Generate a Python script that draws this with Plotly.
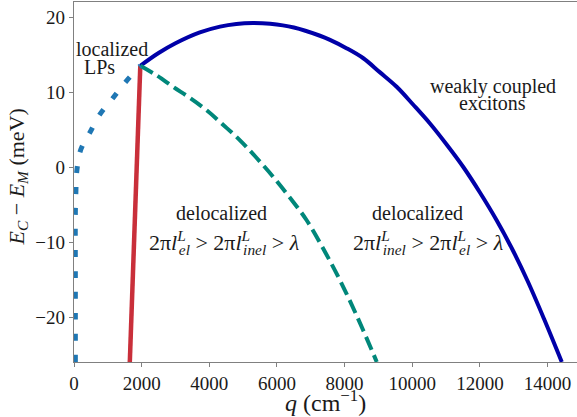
import plotly.graph_objects as go

# upper branch (weakly coupled excitons), solid dark blue
q_upper = [1960, 2500, 3000, 3720, 4316, 4800, 5290, 5800, 6500, 7272, 7567, 8053,
           8553, 9038, 9538, 10030, 10523, 11015, 11508, 12000, 12494, 12950, 13410,
           13900, 14420]
e_upper = [13.5, 15.2, 16.5, 17.95, 18.72, 19.08, 19.2, 19.1, 18.6, 17.5, 16.95, 15.85,
           14.5, 12.65, 10.7, 8.3, 5.8, 3.0, 0.0, -3.4, -7.1, -10.9, -15.2,
           -20.3, -26.0]

# boundary between the two delocalized regimes, dashed teal
q_mid = [1960, 2450, 2936, 3430, 3922, 4415, 4907, 5400, 5892, 6385, 6878, 7370,
         7863, 8355, 8848, 8950]
e_mid = [13.5, 12.2, 10.67, 9.2, 7.56, 5.6, 3.56, 1.2, -1.33, -4.1, -7.1, -10.9,
         -15.1, -19.8, -24.9, -26.0]

# localized LPs, dotted blue
q_lp = [40, 40, 40, 55, 80, 177, 300, 453, 748, 1133, 1508, 1960]
e_lp = [-26.0, -15.0, -6.0, -3.4, -0.67, 2.0, 3.3, 4.45, 6.9, 9.1, 11.25, 13.5]

# localization edge, red
q_edge = [1960, 1650]
e_edge = [13.5, -26.0]

x_ticks = [0, 2000, 4000, 6000, 8000, 10000, 12000, 14000]
y_ticks = [-20, -10, 0, 10, 20]

FONT = "Liberation Serif, Times New Roman, DejaVu Serif, serif"
TXT = "#1a1a1a"
AX = "#808080"

fig = go.Figure()
fig.add_trace(go.Scatter(x=q_edge, y=e_edge, mode="lines",
                         line=dict(color="#c92f3a", width=4.5)))
fig.add_trace(go.Scatter(x=q_upper, y=e_upper, mode="lines", line_shape="spline",
                         line=dict(color="#0000a8", width=4)))
fig.add_trace(go.Scatter(x=q_mid, y=e_mid, mode="lines", line_shape="spline",
                         line=dict(color="#00877a", width=4, dash="14px,6px")))
fig.add_trace(go.Scatter(x=q_lp, y=e_lp, mode="lines", line_shape="spline",
                         line=dict(color="#1f77b4", width=5, dash="7px,14px")))

sup = "<sup><span style='letter-spacing:-7px'><i>L</i></span></sup>"
form_left = ("2π<i>l</i>" + sup + "<sub><i>el</i></sub> &gt; 2π<i>l</i>" + sup +
             "<sub><i>inel</i></sub> &gt; <i>λ</i>")
form_right = ("2π<i>l</i>" + sup + "<sub><i>inel</i></sub> &gt; 2π<i>l</i>" + sup +
              "<sub><i>el</i></sub> &gt; <i>λ</i>")

labels = [
    ("localized", 1123, 15.7, 20),
    ("LPs", 739, 13.3, 20),
    ("weakly coupled", 12385, 10.8, 20),
    ("excitons", 12385, 8.5, 20),
    ("delocalized", 4375, -6.1, 20),
    (form_left, 4440, -10.1, 22),
    ("delocalized", 10140, -6.1, 20),
    (form_right, 10460, -10.1, 22),
]
for txt, x, y, sz in labels:
    fig.add_annotation(x=x, y=y, text=txt, showarrow=False,
                       font=dict(family=FONT, size=sz, color=TXT))

# axis titles as annotations so their centres can be placed
fig.add_annotation(xref="paper", yref="paper", x=-0.111, y=0.513,
                   text="<i>E</i><sub><i>C</i></sub> − <i>E</i><sub><i>M</i></sub> (meV)",
                   textangle=-90, showarrow=False, xanchor="center", yanchor="middle",
                   font=dict(family=FONT, size=22, color=TXT))
fig.add_annotation(xref="paper", yref="paper", x=0.5, y=-0.107,
                   text="<i>q</i> (cm<sup>−1</sup>)",
                   showarrow=False, xanchor="center", yanchor="middle",
                   font=dict(family=FONT, size=24, color=TXT))

fig.update_xaxes(range=[0, 14870], tickvals=x_ticks, tickformat="d",
                 showgrid=False, zeroline=False, showline=True, linecolor=AX,
                 linewidth=1.3, mirror=True, ticks="outside", ticklen=4,
                 tickcolor=AX, tickfont=dict(family=FONT, size=19, color=TXT))
fig.update_yaxes(range=[-26, 22], tickvals=y_ticks,
                 showgrid=False, zeroline=False, showline=True, linecolor=AX,
                 linewidth=1.3, ticks="outside", ticklen=4,
                 tickcolor=AX, tickfont=dict(family=FONT, size=19, color=TXT))

fig.update_layout(width=577, height=417, showlegend=False,
                  margin=dict(l=74, r=0, t=2, b=55),
                  plot_bgcolor="white", paper_bgcolor="white")

# the page's default body margin would shift the figure by 8px
fig.write_html("out.html", config={"displayModeBar": False},
               post_script="document.body.style.margin='0';document.body.style.padding='0';")
